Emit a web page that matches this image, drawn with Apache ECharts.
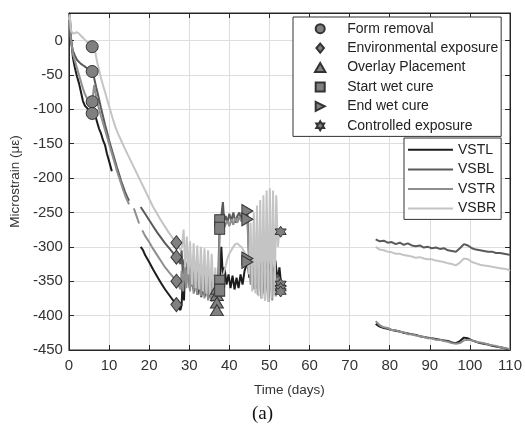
<!DOCTYPE html>
<html><head><meta charset="utf-8">
<script src="https://cdn.jsdelivr.net/npm/echarts@6/dist/echarts.min.js"></script>
<style>html,body{margin:0;padding:0;background:#fff}#c{width:525px;height:429px}</style>
</head><body><div id="c"></div>
<script>
// ---- data: [time (days), microstrain] ----
const vstl = [[0,30],[0.2,38],[0.5,5],[1,-25],[1.5,-40],[2,-52],[2.5,-62],[3,-75],[3.5,-88],[4,-95],[4.5,-98],[5,-102],[5.5,-104],[6,-100],[6.5,-108],[7,-118],[7.5,-128],[8,-135],[8.5,-145],[9,-152],[9.5,-165],[10,-175],[10.7,-190],[11,null],
 [17.9,-300],[18.5,-305],[19,-312],[20,-322],[21,-333],[22,-343],[23,-353],[24,-362],[25,-370],[26,-378],[26.8,-384],[27.3,-388],[27.8,-392],
 [28.1,-385],[28.4,-345],[28.7,-378],[29.0,-322],[29.4,-340],[29.8,-330],[30.3,-358],[30.7,-335],[31.2,-366],[31.6,-338],[32.1,-370],[32.5,-345],[33.0,-373],[33.4,-348],[33.9,-372],[34.3,-350],[34.8,-375],[35.2,-352],[35.7,-378],[36.1,-355],[36.6,-372],[36.9,-392],[37.2,-365],[37.6,-350],[38.0,-300],[38.4,-345],[38.8,-330],[39.3,-355],[39.8,-340],[40.3,-360],[40.8,-342],[41.3,-362],[41.8,-345],[42.3,-360],[42.8,-340],[43.3,-355],[43.8,-335],[44.5,-322],[45,-345],[45.5,-318],[46,-350],[46.5,-320],[47,-352],[47.5,-315],[48,-350],[48.5,-318],[49,-348],[49.5,-310],[50,-335],[50.5,-315],[51,-345],[51.5,-320],[52,-350],[52.5,-330],[53,-360],[60,null],
 [76.5,-412],[77.5,-416],[78.5,-418],[79.5,-419],[80.5,-421],[81.5,-422],[82.5,-423],[83.5,-425],[84.5,-426],[85.5,-427],[86.5,-428],[87.5,-430],[88.5,-431],[89.5,-432],[90.5,-433],[91.5,-434],[92.5,-435],[93.5,-436],[94.5,-437],[95.5,-439],[96.5,-440],[97.5,-437],[98.5,-432],[99.5,-433],[100.5,-436],[101.5,-438],[102.5,-440],[103.5,-441],[104.5,-442],[105.5,-444],[106.5,-445],[107.5,-446],[108.5,-447],[109.5,-449],[110,-450]];
const vsbl = [[0,30],[0.2,36],[0.5,0],[1,-15],[1.5,-22],[2,-28],[2.5,-31],[3,-34],[3.5,-36],[4,-38],[4.5,-40],[5,-42],[5.8,-45],[6.3,-55],[6.8,-68],[7.5,-85],[8,-98],[8.5,-110],[9,-122],[9.5,-133],[10,-145],[10.5,-155],[11,-165],[11.5,-175],[12,-185],[12.5,-194],[13,-204],[13.5,-212],[14,-220],[14.5,-227],[15,-233],[15.5,null],
 [17.9,-242],[19,-252],[20,-261],[21,-270],[22,-279],[23,-287],[24,-295],[25,-302],[26,-309],[26.8,-315],[27.3,-320],[27.8,-325],
 [28.1,-305],[28.4,-340],[28.8,-318],[29.2,-355],[29.6,-322],[30.1,-360],[30.5,-325],[31,-362],[31.4,-328],[31.9,-365],[32.3,-330],[32.8,-368],[33.2,-332],[33.7,-370],[34.1,-335],[34.6,-372],[35,-338],[35.5,-375],[35.9,-340],[36.4,-368],[36.9,-361],[37.2,-350],[37.6,-262],[38,-255],[38.4,-235],[38.7,-262],[39.1,-255],[39.5,-265],[40,-252],[40.5,-262],[41,-250],[41.5,-265],[42,-255],[42.5,-250],[43,-262],[43.5,-248],[44,-258],[44.5,-248],[44.8,-300],[45.2,-340],[45.6,-310],[46.1,-350],[46.5,-318],[47,-360],[47.4,-322],[47.9,-365],[48.3,-325],[48.8,-368],[49.2,-328],[49.7,-372],[50.1,-330],[50.6,-365],[51,-335],[51.5,-360],[52,-340],[52.5,-350],[53,-354],[60,null],
 [76.5,-289],[77.5,-292],[78.5,-291],[79.5,-294],[80.5,-293],[81.5,-296],[82.5,-294],[83.5,-297],[84.5,-295],[85.5,-298],[86.5,-299],[87.5,-298],[88.5,-301],[89.5,-300],[90.5,-302],[91.5,-301],[92.5,-303],[93.5,-302],[94.5,-305],[95.5,-306],[96.5,-307],[97.5,-302],[98.5,-296],[99.5,-298],[100.5,-302],[101.5,-304],[102.5,-305],[103.5,-306],[104.5,-307],[105.5,-307],[106.5,-309],[107.5,-309],[108.5,-310],[109.5,-311],[110,-312]];
const vstr = [[0,30],[0.2,36],[0.5,2],[1,-20],[1.5,-30],[2,-40],[2.5,-50],[3,-60],[3.5,-70],[4,-78],[4.5,-84],[5,-88],[5.8,-89],[6.3,-65],[6.8,-82],[7.3,-95],[8,-110],[8.5,-120],[9,-130],[9.5,-140],[10,-150],[10.5,-160],[11,-170],[11.5,-180],[12,-190],[12.5,-199],[13,-208],[13.5,-217],[14,-225],[14.5,-232],[15,-238],[15.6,null],
 [16.2,-244],[17.5,-266],[17.9,null],
 [18.3,-276],[19,-284],[20,-293],[21,-303],[22,-312],[23,-321],[24,-330],[25,-337],[26,-344],[26.8,-350],[27.3,-355],[27.8,-362],
 [28.1,-335],[28.5,-365],[28.9,-325],[29.3,-360],[29.7,-320],[30.2,-365],[30.6,-325],[31.1,-368],[31.5,-322],[32,-370],[32.4,-325],[32.9,-372],[33.3,-328],[33.8,-375],[34.2,-330],[34.7,-378],[35.1,-335],[35.6,-380],[36,-340],[36.5,-375],[36.9,-370],[37.3,-365],[37.6,-273],[38,-265],[38.5,-275],[39,-268],[39.5,-262],[40,-270],[40.5,-260],[41,-268],[41.5,-258],[42,-265],[42.5,-256],[43,-263],[43.5,-255],[44,-262],[44.5,-260],[44.8,-310],[45.3,-355],[45.7,-320],[46.2,-362],[46.6,-325],[47.1,-370],[47.5,-328],[48,-375],[48.4,-330],[48.9,-378],[49.3,-332],[49.8,-380],[50.2,-335],[50.7,-378],[51.1,-340],[51.6,-372],[52,-345],[52.5,-368],[53,-365],[60,null],
 [76.5,-408],[77.5,-414],[78.5,-417],[79.5,-418],[80.5,-421],[81.5,-421],[82.5,-424],[83.5,-424],[84.5,-427],[85.5,-427],[86.5,-429],[87.5,-430],[88.5,-431],[89.5,-433],[90.5,-433],[91.5,-435],[92.5,-435],[93.5,-437],[94.5,-438],[95.5,-440],[96.5,-441],[97.5,-440],[98.5,-436],[99.5,-435],[100.5,-436],[101.5,-438],[102.5,-439],[103.5,-440],[104.5,-442],[105.5,-443],[106.5,-444],[107.5,-446],[108.5,-447],[109.5,-448],[110,-449]];
const vsbr = [[0,30],[0.2,38],[0.5,15],[1,10],[1.5,11],[2,12],[2.5,10],[3,7],[3.5,4],[4,1],[4.5,-2],[5,-5],[5.8,-9],[6.5,-15],[7,-30],[7.5,-42],[8,-55],[8.5,-65],[9,-75],[9.5,-85],[10,-95],[10.5,-105],[11,-115],[11.6,-126],[12.3,-136],[13,-145],[14,-158],[15,-170],[16,-182],[17,-194],[18,-206],[19,-218],[20,-230],[21,-242],[22,-252],[23,-262],[24,-271],[25,-280],[26,-288],[26.8,-294],[27.3,-300],[27.8,-305],
 [28.2,-300],[28.6,-275],[29,-330],[29.4,-285],[29.8,-340],[30.2,-292],[30.7,-355],[31.1,-295],[31.6,-360],[32,-298],[32.5,-362],[32.9,-300],[33.4,-365],[33.8,-302],[34.3,-368],[34.7,-305],[35.2,-370],[35.6,-310],[36.1,-372],[36.5,-330],[36.9,-381],[37.3,-370],[37.6,-363],[38,-350],[38.5,-340],[39,-330],[39.5,-318],[40,-310],[40.5,-305],[41,-300],[41.5,-296],[42,-295],[42.5,-298],[43,-300],[43.5,-305],[44,-310],[44.5,-317],[44.9,-340],[45.3,-265],[45.7,-365],[46.1,-250],[46.5,-368],[46.9,-240],[47.3,-372],[47.7,-232],[48.1,-375],[48.5,-225],[48.9,-378],[49.3,-218],[49.7,-380],[50.1,-215],[50.5,-375],[50.9,-218],[51.3,-370],[51.7,-225],[52.1,-300],[52.5,-278],[60,null],
 [76.5,-300],[77.5,-304],[78.5,-305],[79.5,-307],[80.5,-308],[81.5,-310],[82.5,-310],[83.5,-312],[84.5,-313],[85.5,-314],[86.5,-316],[87.5,-315],[88.5,-317],[89.5,-318],[90.5,-318],[91.5,-320],[92.5,-321],[93.5,-322],[94.5,-324],[95.5,-325],[96.5,-327],[97.5,-323],[98.5,-317],[99.5,-318],[100.5,-322],[101.5,-324],[102.5,-326],[103.5,-327],[104.5,-328],[105.5,-329],[106.5,-330],[107.5,-331],[108.5,-332],[109.5,-333],[110,-335]];

// event markers
const formRemoval = [[5.8,-9],[5.8,-45],[5.8,-89],[5.8,-106]];
const envExposure = [[26.8,-294],[26.8,-315],[26.8,-350],[26.8,-384]];
const overlayPlacement = [[36.9,-361],[36.9,-370],[36.9,-381],[36.9,-392]];
const startWetCure = [[37.6,-262],[37.6,-273],[37.6,-350],[37.6,-363]];
const endWetCure = [[44.5,-248],[44.5,-260],[44.5,-317],[44.5,-322]];
const controlledExposure = [[52.8,-278],[52.8,-354],[52.8,-360],[52.8,-365]];

const xTicks = {min:0, max:110, interval:10};
const yTicks = {min:-450, max:40, interval:50};

const lineNames = ['VSTL','VSBL','VSTR','VSBR'];
const lineColors = ['#1c1c1c','#5a5a5a','#8f8f8f','#c4c4c4'];
const lineData = [vstl, vsbl, vstr, vsbr];

const eventNames = ['Form removal','Environmental exposure','Overlay Placement','Start wet cure','End wet cure','Controlled exposure'];
const eventData = [formRemoval, envExposure, overlayPlacement, startWetCure, endWetCure, controlledExposure];
const eventSymbols = ['circle',
  'path://M5,0L10,6L5,12L0,6Z',
  'path://M5,0L10,8.66L0,8.66Z',
  'path://M0,0L10,0L10,10L0,10Z',
  'path://M0,0L10,5L0,10Z',
  'path://M0,-10L2.887,-5L8.66,-5L5.774,0L8.66,5L2.887,5L0,10L-2.887,5L-8.66,5L-5.774,0L-8.66,-5L-2.887,-5Z'];
const eventSizes = [12,[11,14],[13,11],[10,12],[11,13],11];

const font = 'Liberation Sans, Arial, sans-serif';
const axisColor = '#262626';

const series = [];
lineData.forEach((d,i)=>series.push({
  name: lineNames[i], type:'line', data:d, symbol:'none', showSymbol:false,
  lineStyle:{color:lineColors[i], width:2}, itemStyle:{color:lineColors[i]},
  connectNulls:false, z:2+i, animation:false
}));
eventData.forEach((d,i)=>series.push({
  name: eventNames[i], type:'scatter', data:d, symbol:eventSymbols[i], symbolSize:eventSizes[i],
  itemStyle:{color:'#808080', borderColor:'#333', borderWidth:1, opacity:1}, z:10, animation:false
}));

const baseX = {type:'value', min:xTicks.min, max:xTicks.max, interval:xTicks.interval};
const baseY = {type:'value', min:yTicks.min, max:yTicks.max, interval:yTicks.interval};
const edgeLine = {show:true, onZero:false, lineStyle:{color:axisColor}};
const inTick = {show:true, inside:true, length:5, lineStyle:{color:axisColor}};

const chart = echarts.init(document.getElementById('c'), null, {renderer:'canvas'});
chart.setOption({
  animation:false,
  backgroundColor:'#fff',
  title:{text:'(a)', left:'center', top:400, textStyle:{fontFamily:'Liberation Serif, Times New Roman, serif', fontSize:19, fontWeight:'normal', color:'#111'}},
  grid:{left:66, right:14, top:13, bottom:79, show:true, borderColor:axisColor, borderWidth:1, backgroundColor:'transparent'},
  xAxis:[
    Object.assign({}, baseX, {position:'bottom', name:'Time (days)', nameLocation:'middle', nameGap:33,
      nameTextStyle:{fontFamily:font, fontSize:13.5, color:'#333'},
      axisLine:edgeLine, axisTick:inTick,
      axisLabel:{fontFamily:font, fontSize:15, color:'#333', margin:8},
      splitLine:{show:true, lineStyle:{color:'#dedede', width:1}}}),
    Object.assign({}, baseX, {position:'top', axisLine:edgeLine, axisTick:inTick,
      axisLabel:{show:false}, splitLine:{show:false}})
  ],
  yAxis:[
    Object.assign({}, baseY, {position:'left', name:'Microstrain (με)', nameLocation:'middle', nameGap:38,
      nameTextStyle:{fontFamily:font, fontSize:13.5, color:'#333'},
      axisLine:edgeLine, axisTick:inTick,
      axisLabel:{fontFamily:font, fontSize:15, color:'#333', margin:6, showMaxLabel:false,
        formatter:v=> v>0 ? '' : String(v)},
      splitLine:{show:true, lineStyle:{color:'#dedede', width:1}}}),
    Object.assign({}, baseY, {position:'right', axisLine:edgeLine, axisTick:inTick,
      axisLabel:{show:false}, splitLine:{show:false}})
  ],
  legend:[
    {orient:'vertical', left:293, top:17, data:eventNames, itemWidth:44, itemHeight:9, itemGap:0,
     symbolKeepAspect:true,
     padding:[2,3,1,21], borderColor:'#333', borderWidth:1, backgroundColor:'#fff',
     textStyle:{fontFamily:font, fontSize:14, lineHeight:19.4, color:'#222'}, selectedMode:false},
    {orient:'vertical', left:404, top:138, itemWidth:45, itemHeight:2, itemGap:0,
     data:lineNames.map(n=>({name:n, icon:'rect'})),
     padding:[2,5,1,4], borderColor:'#333', borderWidth:1, backgroundColor:'#fff',
     textStyle:{fontFamily:font, fontSize:14, lineHeight:19.6, color:'#222'}, selectedMode:false}
  ],
  series: series
});
</script></body></html>
